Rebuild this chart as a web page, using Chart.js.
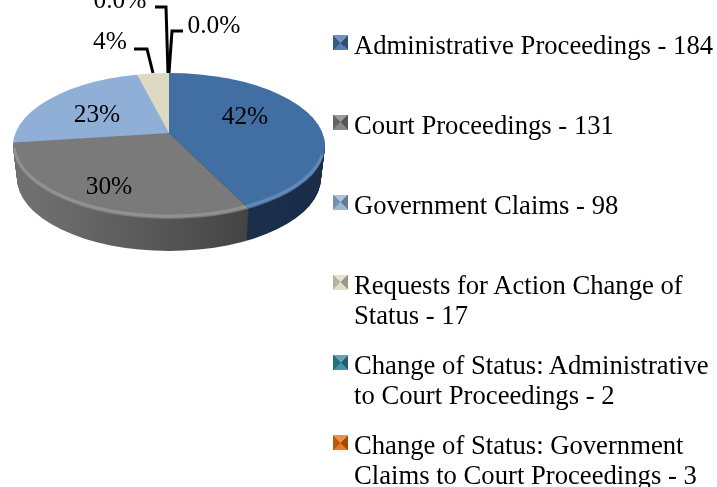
<!DOCTYPE html>
<html>
<head>
<meta charset="utf-8">
<script src="https://cdn.jsdelivr.net/npm/chart.js@4"></script>
<style>
  html, body { margin: 0; padding: 0; background: #fff; overflow: hidden; }
  #wrap { position: relative; width: 717px; height: 487px; font-family: "Liberation Serif", serif; color: #000; }
  #myChart { position: absolute; left: 0; top: 0; }
  #legend { position: absolute; left: 332px; top: 30px; width: 385px; }
  .item { position: absolute; left: 0; width: 363px; padding-left: 22px; font-size: 26.67px; line-height: 30px; white-space: nowrap; }
  .swatch { position: absolute; left: 1px; top: 5px; width: 15px; height: 15px; }
</style>
</head>
<body>
<div id="wrap">
  <canvas id="myChart" width="717" height="487"></canvas>
  <div id="legend"></div>
</div>
<script>
const categorias = [
  ['Administrative Proceedings - 184'],
  ['Court Proceedings - 131'],
  ['Government Claims - 98'],
  ['Requests for Action Change of', 'Status - 17'],
  ['Change of Status: Administrative', 'to Court Proceedings - 2'],
  ['Change of Status: Government', 'Claims to Court Proceedings - 3']
];
// the last two slices have no visible size in the picture, their labels say 0.0%
const valores = [184, 131, 98, 17, 0, 0];
const etiquetas = ['42%', '30%', '23%', '4%', '0.0%', '0.0%'];
const colores = ['#416fa4', '#7a7a7a', '#8fafd6', '#ddd9c3', '#31859c', '#e46c0a'];
const lados = [
  ['#1d3554', '#1a2c47'],
  ['#707070', '#333333'],
  ['#6f8fb8', '#5f7ea6'],
  ['#b5b19c', '#a5a18c'],
  ['#205d6e', '#205d6e'],
  ['#a34c06', '#a34c06']
];

// geometria del pastel "3d"
const pastel = { x: 169, y: 133, rx: 156, arriba: 60, abajo: 86, cy: 146, ry: 73, grosor: 32 };

function dibujarCara(ctx, arcos, d, fill) {
  const rx = pastel.rx - d / 8;
  const mitades = [
    { y0: -200, y1: pastel.y + d, esc: pastel.arriba, anchoX: 0.83, sesgo: 0 },
    { y0: pastel.y + d, y1: 700, esc: pastel.abajo, anchoX: 1, sesgo: 0.17 }
  ];
  const { x: cx, y: cy, outerRadius: r } = arcos[0];
  mitades.forEach(m => {
    ctx.save();
    ctx.beginPath();
    ctx.ellipse(pastel.x, pastel.cy + d, rx, pastel.ry, 0, 0, Math.PI * 2);
    ctx.clip();
    ctx.beginPath();
    ctx.rect(0, m.y0, 717, m.y1 - m.y0);
    ctx.clip();
    ctx.translate(pastel.x, pastel.y + d);
    ctx.transform(1, 0, m.sesgo, 1, 0, 0);
    ctx.scale(1.6 * m.anchoX * rx / r, 1.6 * m.esc / r);
    ctx.translate(-cx, -cy);
    arcos.forEach((arc, i) => {
      if (arc.circumference <= 0) return;
      const copia = Object.create(arc);
      const opts = Object.create(arc.options);
      opts.backgroundColor = fill(i, cx, r);
      opts.borderWidth = 0;
      copia.options = opts;
      copia.draw(ctx);
    });
    ctx.restore();
  });
}

const pastel3d = {
  id: 'pastel3d',
  beforeDatasetsDraw(chart) {
    const ctx = chart.ctx;
    const arcos = chart.getDatasetMeta(0).data;
    for (let d = pastel.grosor; d > 0; d--) {
      dibujarCara(ctx, arcos, d, (i, cx, r) => {
        const g = ctx.createLinearGradient(cx - r * 0.6, 0, cx + r * 0.6, 0);
        g.addColorStop(0, lados[i][0]);
        g.addColorStop(1, lados[i][1]);
        return g;
      });
    }
    dibujarCara(ctx, arcos, 0, i => colores[i]);

    // brillo del borde
    ctx.save();
    ctx.beginPath();
    ctx.ellipse(pastel.x, pastel.cy, pastel.rx, pastel.ry, 0, 0, Math.PI * 2);
    ctx.clip();
    ctx.beginPath();
    ctx.ellipse(pastel.x, pastel.cy - 2, pastel.rx - 1, pastel.ry - 1, 0, 0.15, Math.PI - 0.05);
    ctx.strokeStyle = 'rgba(255,255,255,0.16)';
    ctx.lineWidth = 3;
    ctx.shadowColor = 'rgba(255,255,255,0.25)';
    ctx.shadowBlur = 3;
    ctx.stroke();
    ctx.restore();
    return false;
  },
  afterDraw(chart) {
    const ctx = chart.ctx;
    ctx.save();
    ctx.strokeStyle = '#000';
    ctx.lineWidth = 3;
    [
      [[134, 49], [147, 49], [153, 73]],
      [[155, 7], [166, 7], [168, 73]],
      [[183, 31], [172, 31], [169, 73]]
    ].forEach(linea => {
      ctx.beginPath();
      linea.forEach((p, i) => i ? ctx.lineTo(p[0], p[1]) : ctx.moveTo(p[0], p[1]));
      ctx.stroke();
    });
    ctx.fillStyle = '#000';
    ctx.font = '25.4px "Liberation Serif"';
    ctx.textAlign = 'center';
    ctx.textBaseline = 'middle';
    const sitios = [[245, 117], [109, 187], [97, 115], [110, 42], [120, 1], [214, 26]];
    etiquetas.forEach((t, i) => ctx.fillText(t, sitios[i][0], sitios[i][1]));
    ctx.restore();
  }
};

new Chart(document.getElementById('myChart'), {
  type: 'pie',
  data: {
    labels: categorias,
    datasets: [{ data: valores, backgroundColor: colores, borderWidth: 0 }]
  },
  options: {
    responsive: false,
    animation: false,
    plugins: { legend: { display: false }, tooltip: { enabled: false } }
  },
  plugins: [pastel3d]
});

// leyenda en html porque los textos van en dos lineas
const leyenda = document.getElementById('legend');
categorias.forEach((c, i) => {
  const item = document.createElement('div');
  item.className = 'item';
  item.style.top = (i * 80) + 'px';
  const s = document.createElement('span');
  s.className = 'swatch';
  s.style.background = `conic-gradient(from -45deg, rgba(255,255,255,0.25) 0 90deg, rgba(0,0,0,0.3) 90deg 180deg, rgba(255,255,255,0.1) 180deg 270deg, rgba(0,0,0,0.18) 270deg 360deg), ${colores[i]}`;
  item.appendChild(s);
  c.forEach((linea, j) => {
    if (j) item.appendChild(document.createElement('br'));
    item.appendChild(document.createTextNode(linea));
  });
  leyenda.appendChild(item);
});
</script>
</body>
</html>
